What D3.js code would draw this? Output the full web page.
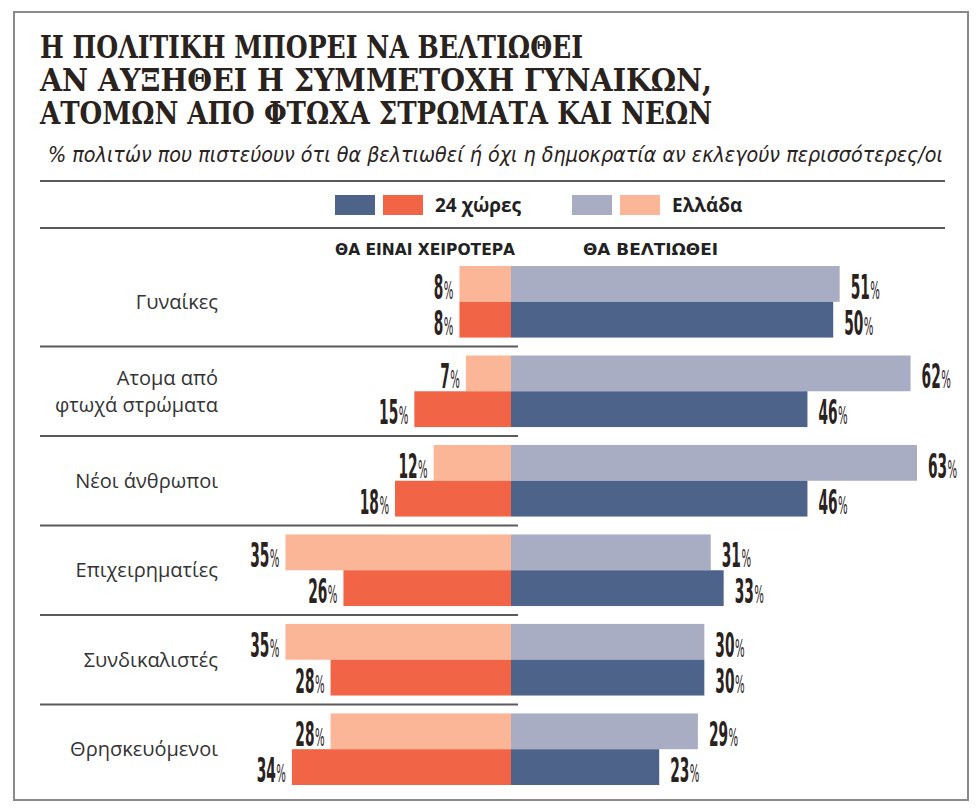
<!DOCTYPE html>
<html>
<head>
<meta charset="utf-8">
<script src="https://cdn.jsdelivr.net/npm/d3@7"></script>
<style>
  body { margin: 0; background: #fff; }
  svg { display: block; }
</style>
</head>
<body>
<div id="chart"></div>
<script>
// data
let categories = ["Γυναίκες", "Ατομα από|φτωχά στρώματα", "Νέοι άνθρωποι", "Επιχειρηματίες", "Συνδικαλιστές", "Θρησκευόμενοι"];
let series = ["Ελλάδα", "24 χώρες"];
let worseGreece = [8, 7, 12, 35, 35, 28];
let worse24 = [8, 15, 18, 26, 28, 34];
let betterGreece = [51, 62, 63, 31, 30, 29];
let better24 = [50, 46, 46, 33, 30, 23];
let titleLines = ["Η ΠΟΛΙΤΙΚΗ ΜΠΟΡΕΙ ΝΑ ΒΕΛΤΙΩΘΕΙ", "ΑΝ ΑΥΞΗΘΕΙ Η ΣΥΜΜΕΤΟΧΗ ΓΥΝΑΙΚΩΝ,", "ΑΤΟΜΩΝ ΑΠΟ ΦΤΩΧΑ ΣΤΡΩΜΑΤΑ ΚΑΙ ΝΕΩΝ"];
let subtitle = "% πολιτών που πιστεύουν ότι θα βελτιωθεί ή όχι η δημοκρατία αν εκλεγούν περισσότερες/οι";
let headers = ["ΘΑ ΕΙΝΑΙ ΧΕΙΡΟΤΕΡΑ", "ΘΑ ΒΕΛΤΙΩΘΕΙ"];

let W = 980, H = 810;
let zeroX = 511;
let colors = {
  "24 χώρες": {better: "#4e6389", worse: "#f26446"},
  "Ελλάδα": {better: "#a9adc4", worse: "#fbb597"}
};
let ink = "#2a221d";

let svg = d3.select("#chart").append("svg")
  .attr("width", W)
  .attr("height", H);

// frame
svg.append("rect")
  .attr("x", 14).attr("y", 12)
  .attr("width", 954).attr("height", 788)
  .attr("fill", "none")
  .attr("stroke", "#8a8a8a")
  .attr("stroke-width", 2);

// title
let titleWidths = [543, 672, 672];
svg.selectAll(".title").data(titleLines).enter()
  .append("text")
  .attr("class", "title")
  .attr("x", 40)
  .attr("y", (d, i) => 58 + i * 33)
  .attr("textLength", (d, i) => titleWidths[i])
  .attr("lengthAdjust", "spacingAndGlyphs")
  .style("font-family", "'DejaVu Serif Condensed', 'DejaVu Serif', serif")
  .style("font-weight", "bold")
  .style("font-size", "31px")
  .attr("fill", ink)
  .text(d => d);

svg.append("text")
  .attr("x", 48)
  .attr("y", 162)
  .attr("textLength", 895)
  .attr("lengthAdjust", "spacingAndGlyphs")
  .style("font-family", "'DejaVu Sans Condensed', 'DejaVu Sans', sans-serif")
  .style("font-style", "italic")
  .style("font-size", "21px")
  .attr("fill", ink)
  .text(subtitle);

// rules round the legend
[181, 228].forEach(y => {
  svg.append("line")
    .attr("x1", 40).attr("x2", 945)
    .attr("y1", y).attr("y2", y)
    .attr("stroke", "#5a5a5a")
    .attr("stroke-width", 2);
});

// legend
let legendItems = [
  {label: "24 χώρες", x: 335, tx: 435},
  {label: "Ελλάδα", x: 572, tx: 672}
];
legendItems.forEach(item => {
  svg.append("rect").attr("x", item.x).attr("y", 195).attr("width", 40).attr("height", 20)
    .attr("fill", colors[item.label].better);
  svg.append("rect").attr("x", item.x + 48).attr("y", 195).attr("width", 40).attr("height", 20)
    .attr("fill", colors[item.label].worse);
  svg.append("text").attr("x", item.tx).attr("y", 212)
    .style("font-family", "'Open Sans', sans-serif")
    .style("font-weight", "bold")
    .style("font-size", "19px")
    .attr("fill", "#222")
    .text(item.label);
});

// column headers
let headerX = [335, 583], headerW = [180, 135];
svg.selectAll(".hdr").data(headers).enter()
  .append("text")
  .attr("class", "hdr")
  .attr("x", (d, i) => headerX[i])
  .attr("y", 255)
  .attr("textLength", (d, i) => headerW[i])
  .attr("lengthAdjust", "spacingAndGlyphs")
  .style("font-family", "'DejaVu Sans Condensed', sans-serif")
  .style("font-weight", "bold")
  .style("font-size", "16px")
  .attr("fill", "#222")
  .text(d => d);

// scales
let xScale = d3.scaleLinear().domain([0, 63]).range([0, 406]);
let yScale = d3.scaleBand().domain(categories).range([266, 785]).paddingInner(0.2).paddingOuter(0);
let ySub = d3.scaleBand().domain(series).range([0, yScale.bandwidth()]);

let rows = [];
categories.forEach((c, i) => {
  rows.push({cat: c, s: "Ελλάδα", worse: worseGreece[i], better: betterGreece[i]});
  rows.push({cat: c, s: "24 χώρες", worse: worse24[i], better: better24[i]});
});

// separators under each group (left part)
svg.selectAll(".sep").data(categories.slice(0, -1)).enter()
  .append("line")
  .attr("class", "sep")
  .attr("x1", 40).attr("x2", 518)
  .attr("y1", d => yScale(d) + yScale.bandwidth() + yScale.step() * 0.1)
  .attr("y2", d => yScale(d) + yScale.bandwidth() + yScale.step() * 0.1)
  .attr("stroke", "#5a5a5a")
  .attr("stroke-width", 2);

// category labels
categories.forEach(c => {
  let lines = c.split("|");
  let cy = yScale(c) + yScale.bandwidth() / 2;
  let t = svg.append("text")
    .attr("x", 218)
    .attr("text-anchor", "end")
    .style("font-family", "'Open Sans', sans-serif")
    .style("font-size", "20px")
    .attr("fill", "#333");
  lines.forEach((l, j) => {
    t.append("tspan")
      .attr("x", 218)
      .attr("y", cy + 7 + (j - (lines.length - 1) / 2) * 27)
      .text(l);
  });
});

// bars
let bars = svg.append("g").attr("class", "bars");
bars.selectAll(".better").data(rows).enter()
  .append("rect")
  .attr("class", "better")
  .attr("x", zeroX)
  .attr("y", d => yScale(d.cat) + ySub(d.s))
  .attr("width", d => xScale(d.better))
  .attr("height", ySub.bandwidth())
  .attr("fill", d => colors[d.s].better);
bars.selectAll(".worse").data(rows).enter()
  .append("rect")
  .attr("class", "worse")
  .attr("x", d => zeroX - xScale(d.worse))
  .attr("y", d => yScale(d.cat) + ySub(d.s))
  .attr("width", d => xScale(d.worse))
  .attr("height", ySub.bandwidth())
  .attr("fill", d => colors[d.s].worse);

// value labels: tall narrow numbers with a thin % sign
function valueLabel(sel) {
  sel.style("font-family", "'DejaVu Sans Condensed', sans-serif")
    .attr("fill", ink);
  sel.append("tspan")
    .style("font-weight", "bold")
    .style("font-size", "34px")
    .text(d => d.v);
  sel.append("tspan")
    .style("font-size", "25px")
    .style("font-weight", "normal")
    .attr("dx", 1)
    .text("%");
}

let labelData = [];
rows.forEach(r => {
  let bottom = yScale(r.cat) + ySub(r.s) + ySub.bandwidth();
  labelData.push({v: r.better, x: zeroX + xScale(r.better) + 11, y: bottom - 3, side: "right"});
  labelData.push({v: r.worse, x: zeroX - xScale(r.worse) - 6, y: bottom - 3, side: "left"});
});

svg.selectAll(".val").data(labelData).enter()
  .append("g")
  .attr("class", "val")
  .attr("transform", d => "translate(" + d.x + "," + d.y + ") scale(0.45,1)")
  .append("text")
  .attr("text-anchor", d => d.side == "right" ? "start" : "end")
  .call(valueLabel);
</script>
</body>
</html>
